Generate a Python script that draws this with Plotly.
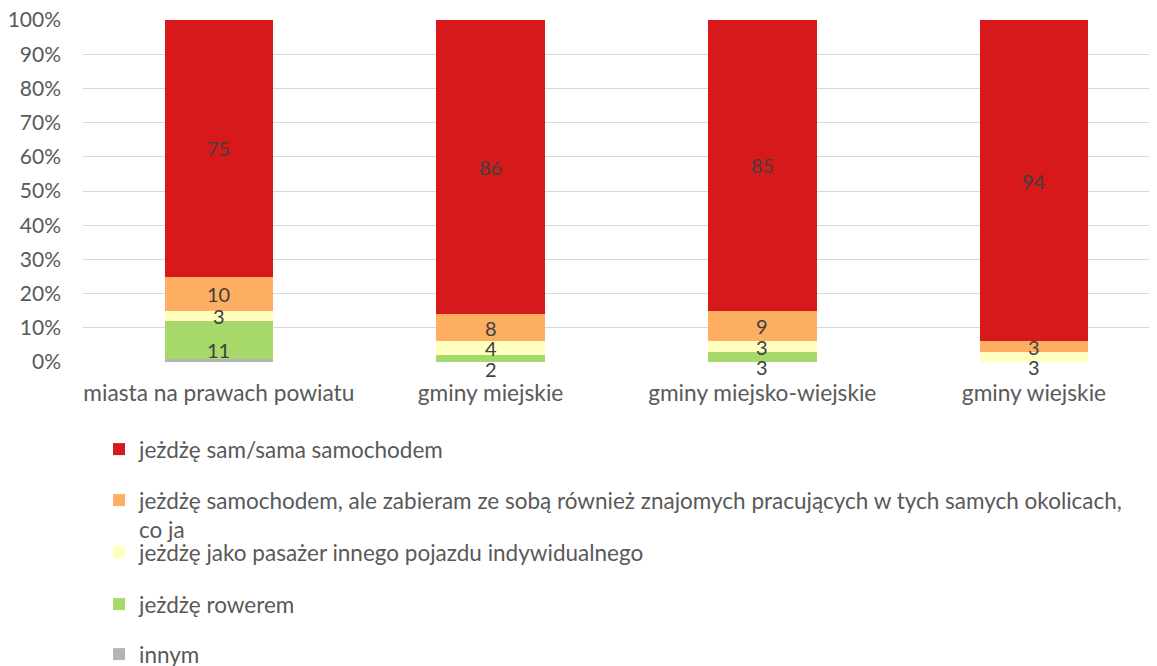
import plotly.graph_objects as go

categories = ["miasta na prawach powiatu", "gminy miejskie", "gminy miejsko-wiejskie", "gminy wiejskie"]

series_names = [
    "jeżdżę sam/sama samochodem",
    "jeżdżę samochodem, ale zabieram ze sobą również znajomych pracujących w tych samych okolicach,<br>co ja",
    "jeżdżę jako pasażer innego pojazdu indywidualnego",
    "jeżdżę rowerem",
    "innym",
]
sam = [75, 86, 85, 94]
znajomi = [10, 8, 9, 3]
pasazer = [3, 4, 3, 3]
rower = [11, 2, 3, 0]
innym = [1, 0, 0, 0]

colors = ["#D7191C", "#FDAE61", "#FFFFBF", "#A6D96A", "#B4B4B4"]
ytick_vals = [0, 10, 20, 30, 40, 50, 60, 70, 80, 90, 100]
ytick_text = [f"{v}%" for v in ytick_vals]

FONT = "Lato"
TICK_COLOR = "#595959"
LABEL_COLOR = "#404040"

# page body has an 8px margin; work in screen coords and convert
OFF = 8
W, H = 1157 - OFF, 666 - OFF
scr_top, scr_bottom, scr_left = 20, 362, 83
t = scr_top - OFF
b = H - (scr_bottom - OFF)
l = scr_left - OFF
ph = scr_bottom - scr_top
pw = W - l
cat_spacing = 271.7

# stacking order bottom -> top
stack = [
    (series_names[4], innym, colors[4], "legend5"),
    (series_names[3], rower, colors[3], "legend4"),
    (series_names[2], pasazer, colors[2], "legend3"),
    (series_names[1], znajomi, colors[1], "legend2"),
    (series_names[0], sam, colors[0], "legend"),
]

fig = go.Figure()
for name, vals, col, leg in stack:
    fig.add_trace(go.Bar(
        x=categories, y=vals, name=name,
        marker=dict(color=col, line=dict(width=0)),
        width=0.4,
        legend=leg,
        hoverinfo="skip",
    ))

# data labels at segment centres (lowest labelled segment of each bar nudged down, as in the source)
annotations = []
for ci, cat in enumerate(categories):
    base = 0
    first = True
    for name, vals, col, leg in stack:
        v = vals[ci]
        if v >= 2:
            annotations.append(dict(
                x=cat, y=base + v / 2, xref="x", yref="y", text=str(v),
                showarrow=False, yshift=-10 if first else 0,
                font=dict(family=FONT, size=20, color=LABEL_COLOR),
            ))
            first = False
        base += v

leg_centers = [448, 499, 551, 603, 653]
layout_legends = {}
for i, key in enumerate(["legend", "legend2", "legend3", "legend4", "legend5"]):
    yc = leg_centers[i]
    layout_legends[key] = dict(
        x=(99 - scr_left) / pw, xanchor="left",
        y=(scr_bottom - (yc - 20)) / ph, yanchor="top",
        font=dict(family=FONT, size=22.5, color=TICK_COLOR),
        bgcolor="rgba(0,0,0,0)",
        itemwidth=30,
        valign="top",
        tracegroupgap=0,
    )

fig.update_layout(
    width=W, height=H,
    margin=dict(l=l, r=0, t=t, b=b, pad=0, autoexpand=False),
    barmode="stack",
    plot_bgcolor="white", paper_bgcolor="white",
    showlegend=True,
    annotations=annotations,
    **layout_legends,
)
fig.update_xaxes(
    range=[-0.5, -0.5 + pw / cat_spacing], showgrid=False, showline=False, zeroline=False,
    tickfont=dict(family=FONT, size=22.7, color=TICK_COLOR),
    ticks="", ticklabelstandoff=15,
)
fig.update_yaxes(
    range=[0, 100], tickvals=ytick_vals, ticktext=ytick_text,
    showgrid=True, gridcolor="#D9D9D9", gridwidth=1,
    zeroline=False, showline=False,
    tickfont=dict(family=FONT, size=21, color=TICK_COLOR),
    ticks="", ticklabelstandoff=21, ticklabeloverflow="allow",
)

fig.write_html("out.html")
